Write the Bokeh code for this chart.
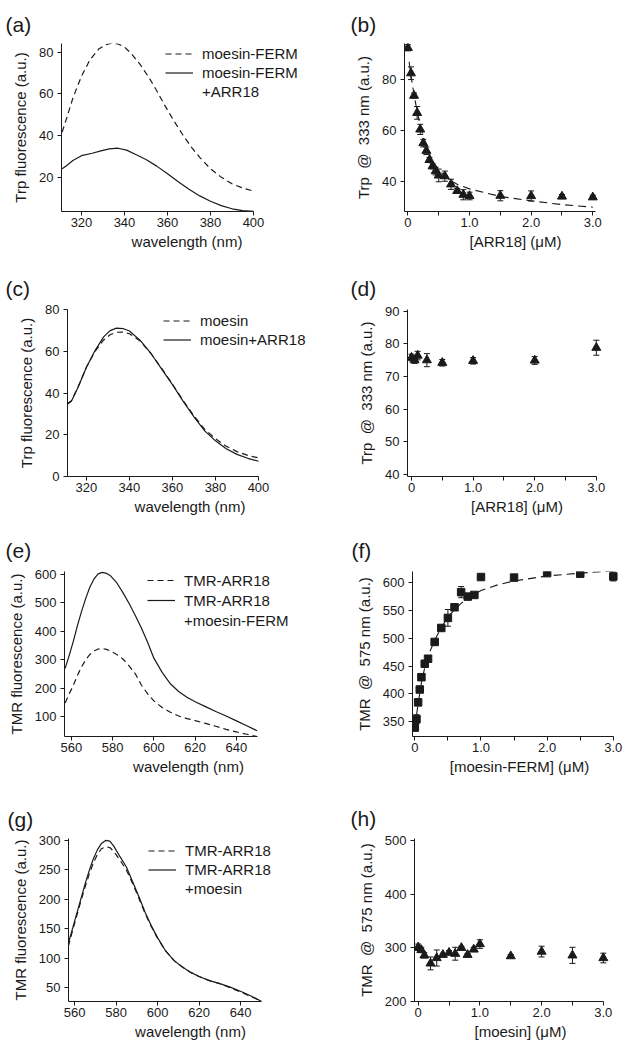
from bokeh.plotting import figure
from bokeh.layouts import column, row
from bokeh.models import (Range1d, FixedTicker, Legend, LegendItem, Whisker, TeeHead,
                          ColumnDataSource, CustomJSTickFormatter)
from bokeh.embed import file_html
from bokeh.resources import INLINE

FONT = "Liberation Sans"
INK = "#1a1a1a"

# ---------------- data ----------------
# (a) Trp spectra, moesin-FERM
wl_a_dash = [311, 313, 316, 320, 324, 328, 331, 334, 337, 340, 343, 347, 351, 355, 359, 363, 367, 371, 375, 380, 385, 390, 395, 400]
fl_a_dash = [41.6, 48, 58, 68.5, 76.5, 81.5, 83.5, 84.3, 84, 82.5, 79.5, 74.5, 68.5, 61.5, 54, 47, 40.5, 34.5, 29.5, 24, 20, 16.8, 14.8, 13.3]
wl_a_solid = [311, 313, 316, 320, 325, 329, 333, 337, 341, 345, 350, 355, 360, 365, 370, 375, 380, 385, 390, 395, 400]
fl_a_solid = [24, 25.5, 28, 30.3, 31.5, 32.6, 33.6, 33.9, 33, 31, 28.5, 25.3, 21.6, 17.8, 14.2, 11, 8.4, 6.3, 4.8, 3.9, 3.6]

# (b) Trp @ 333 nm vs [ARR18]
arr_b = [0, 0.05, 0.1, 0.15, 0.2, 0.25, 0.3, 0.35, 0.4, 0.45, 0.5, 0.6, 0.7, 0.8, 0.9, 1.0, 1.5, 2.0, 2.5, 3.0]
trp_b = [92.5, 82.5, 73.7, 66.9, 60.4, 55, 52, 48.4, 45.9, 44, 42.3, 42, 38.8, 36.2, 34.7, 34.2, 34.3, 34.2, 34, 33.7]
err_b = [1.2, 2.5, 1, 2.5, 2, 1.5, 1.5, 1, 1, 1.5, 2.5, 2, 2, 1, 2, 1.5, 2, 2, 0.8, 0.8]
fit_b_x = [0.02, 0.05, 0.1, 0.15, 0.2, 0.3, 0.4, 0.5, 0.6, 0.7, 0.8, 1.0, 1.25, 1.5, 2.0, 2.5, 3.0]
fit_b_y = [87, 81.5, 74, 67.5, 62, 53.5, 48, 44.5, 42, 40.2, 38.8, 37, 35.5, 34, 32.3, 30.8, 29.8]

# (c) Trp spectra, full-length moesin
wl_c = [311, 313, 316, 320, 324, 328, 331, 334, 337, 340, 345, 350, 355, 360, 365, 370, 375, 380, 385, 390, 395, 400]
fl_c_solid = [34.5, 36, 42.5, 52.4, 60.4, 67, 70, 71.2, 71, 69.8, 65.3, 59, 51.5, 44, 36, 28.5, 21.8, 17, 13.2, 10.5, 8.6, 7.2]
fl_c_dash = [34.8, 36.3, 42.5, 52.4, 60, 65.5, 68, 69.2, 69.3, 68.5, 65, 59, 51.8, 44.2, 36.3, 29, 22.5, 18, 14.4, 11.8, 10, 8.8]

# (d) Trp @ 333 nm vs [ARR18], moesin
arr_d = [0, 0.05, 0.1, 0.25, 0.5, 1.0, 2.0, 3.0]
trp_d = [75.8, 75.0, 76.4, 75.0, 74.2, 74.8, 74.9, 78.8]
err_d = [1, 1, 1.3, 2, 1, 1, 1.2, 2.3]

# (e) TMR spectra, moesin-FERM
wl_e = [557, 559, 561, 563, 565, 567, 569, 571, 573, 575, 577, 579, 582, 585, 588, 591, 594, 597, 600, 604, 608, 612, 616, 620, 625, 630, 635, 640, 645, 650]
fl_e_solid = [269, 315, 365, 420, 470, 515, 555, 583, 601, 606, 603, 594, 570, 535, 497, 455, 410, 360, 305, 255, 215, 188, 168, 152, 135, 118, 102, 85, 68, 50]
fl_e_dash = [148, 180, 210, 245, 275, 300, 318, 330, 337, 339, 336, 330, 318, 302, 278, 250, 210, 180, 155, 132, 115, 102, 93, 86, 76, 66, 55, 46, 38, 30]

# (f) TMR @ 575 nm vs [moesin-FERM]
conc_f = [0, 0.025, 0.05, 0.075, 0.1, 0.15, 0.2, 0.3, 0.4, 0.5, 0.6, 0.7, 0.8, 0.9, 1.0, 1.5, 2.0, 2.5, 3.0]
tmr_f = [340, 355, 385, 408, 430, 454, 463, 493, 518, 536, 555, 582, 574, 577, 609, 608, 616, 615, 610]
err_f = [6, 8, 6, 5, 4, 4, 4, 4, 5, 15, 4, 10, 3, 3, 4, 4, 3, 3, 8]
fit_f_x = [0.0, 0.05, 0.1, 0.15, 0.2, 0.3, 0.4, 0.5, 0.6, 0.7, 0.8, 1.0, 1.25, 1.5, 2.0, 2.5, 3.0]
fit_f_y = [340, 383, 420, 447, 468, 496, 519, 537, 551, 562, 571, 585, 595, 602, 611, 616, 620]

# (g) TMR spectra, full-length moesin
wl_g = [557, 559, 561, 563, 565, 567, 569, 571, 573, 575, 577, 579, 582, 585, 588, 591, 594, 597, 600, 604, 608, 612, 616, 620, 625, 630, 635, 640, 645, 650]
fl_g_solid = [125, 150, 175, 200, 225, 248, 268, 284, 295, 300, 299, 290, 272, 255, 230, 205, 178, 155, 135, 112, 96, 85, 76, 69, 62, 57, 51, 44, 36, 27]
fl_g_dash = [120, 146, 171, 196, 220, 242, 261, 276, 286, 289, 288, 281, 266, 250, 227, 202, 176, 154, 134, 112, 96, 85, 76, 69, 62, 57, 50, 43, 35, 27]

# (h) TMR @ 575 nm vs [moesin]
conc_h = [0, 0.05, 0.1, 0.2, 0.3, 0.4, 0.5, 0.6, 0.7, 0.8, 0.9, 1.0, 1.5, 2.0, 2.5, 3.0]
tmr_h = [301, 296, 286, 271, 281, 287, 291, 289, 300, 287, 297, 307, 284.5, 293, 286, 281]
err_h = [6, 5, 5, 12, 15, 3, 4, 12, 3, 2, 4, 8, 3, 10, 15, 9]

# -------------- helpers --------------
ROW_TOP = [0, 260, 520, 790]
ROW_H = [260, 260, 270, 260]
COL_L = [0, 315]
COL_W = [315, 316]
FRAME_R_EXT = [312, 626]


def panel(ci, ri, frame, xr, yr, label, title_off, title_gap, xticks, yticks, xtitle, ytitle, conc=False):
    l, t, r, b = frame
    cl, cw, rt, rh = COL_L[ci], COL_W[ci], ROW_TOP[ri], ROW_H[ri]
    r_ext = FRAME_R_EXT[ci]
    x_ext = xr[0] + (xr[1] - xr[0]) * (r_ext - l) / (r - l)
    p = figure(width=cw, height=rh, output_backend="svg", toolbar_location=None,
               x_range=Range1d(xr[0], x_ext), y_range=Range1d(*yr),
               min_border_left=round(l - cl), min_border_right=round(cl + cw - r_ext),
               min_border_top=round(t - rt), min_border_bottom=round(rt + rh - b))
    p.outline_line_color = None
    p.background_fill_color = "white"
    p.border_fill_color = "white"
    p.xgrid.visible = False
    p.ygrid.visible = False
    p.title.text = label
    p.title.align = "left"
    p.title.offset = title_off
    p.title.text_font = FONT
    p.title.text_font_size = "21px"
    p.title.text_font_style = "normal"
    p.title.text_color = INK
    p.title.standoff = title_gap
    for ax in (p.xaxis[0], p.yaxis[0]):
        ax.axis_line_color = INK
        ax.axis_line_width = 1
        ax.major_tick_line_color = INK
        ax.major_tick_out = 4
        ax.major_tick_in = 0
        ax.minor_tick_line_color = None
        ax.major_label_text_font = FONT
        ax.major_label_text_font_size = "13px"
        ax.major_label_text_color = INK
        ax.axis_label_text_font = FONT
        ax.axis_label_text_font_size = "15px"
        ax.axis_label_text_font_style = "normal"
        ax.axis_label_text_color = INK
    p.xaxis.bounds = (xr[0], xr[1])
    p.xaxis.major_label_standoff = 2
    p.xaxis.axis_label_standoff = 3
    p.yaxis.major_label_standoff = 4
    p.yaxis.axis_label_standoff = 7
    p.xaxis.axis_label = xtitle
    p.yaxis.axis_label = ytitle
    p.yaxis.ticker = FixedTicker(ticks=yticks)
    if conc:
        p.xaxis.ticker = FixedTicker(ticks=[0, 1, 2, 3], minor_ticks=[0.5, 1.5, 2.5])
        p.xaxis.minor_tick_line_color = INK
        p.xaxis.minor_tick_out = 4
        p.xaxis.minor_tick_in = 0
        p.xaxis.formatter = CustomJSTickFormatter(code="return tick == 0 ? '0' : tick.toFixed(1);")
    else:
        p.xaxis.ticker = FixedTicker(ticks=xticks)
    return p


def legend(p, entries, vx, vy, pitch):
    items = [LegendItem(label=txt, renderers=[rr]) for txt, rr in entries]
    lg = Legend(items=items, location=(vx, vy), border_line_color=None,
                background_fill_alpha=0, padding=0, spacing=0, margin=0,
                glyph_width=28, glyph_height=pitch, label_height=pitch,
                label_standoff=9, label_text_font=FONT, label_text_font_size="15px",
                label_text_color=INK)
    p.add_layout(lg)


def blank(p):
    return p.line(x=[], y=[], line_alpha=0)


def errpoints(p, xs, ys, es, marker, size):
    src = ColumnDataSource(dict(x=xs, y=ys,
                                up=[a + e for a, e in zip(ys, es)],
                                lo=[a - e for a, e in zip(ys, es)]))
    w = Whisker(source=src, base="x", upper="up", lower="lo", line_color=INK, line_width=1,
                upper_head=TeeHead(size=6, line_color=INK, line_width=1),
                lower_head=TeeHead(size=6, line_color=INK, line_width=1))
    p.add_layout(w)
    p.scatter("x", "y", source=src, marker=marker, size=size, fill_color=INK, line_color=INK)


SPEC_DASH = "6 4"
FIT_DASH = "8 5"
NB = "\u00a0"
ARR_T = "[ARR18] (\u03bcM)"
TRP_T = "Trp" + NB * 2 + "@" + NB * 2 + "333 nm (a.u.)"
TMR_T = "TMR" + NB * 2 + "@" + NB * 2 + "575 nm (a.u.)"

# (a)
pa = panel(0, 0, (61, 43, 253, 211), (310.7, 400), (3.5, 84.2), "(a)", -56, 16,
           [320, 340, 360, 380, 400], [20, 40, 60, 80], "wavelength (nm)", "Trp fluorescence (a.u.)")
ra1 = pa.line(wl_a_dash, fl_a_dash, line_color=INK, line_width=1.2, line_dash=SPEC_DASH)
ra2 = pa.line(wl_a_solid, fl_a_solid, line_color=INK, line_width=1.2)
legend(pa, [("moesin-FERM", ra1), ("moesin-FERM", ra2), ("+ARR18", blank(pa))], 104, 110.5, 19)

# (b)
pb = panel(1, 0, (404, 43, 595, 211), (-0.055, 3.044), (28.1, 94.2), "(b)", -54, 16,
           None, [40, 60, 80], ARR_T, TRP_T, conc=True)
pb.line(fit_b_x, fit_b_y, line_color=INK, line_width=1.1, line_dash=FIT_DASH)
errpoints(pb, arr_b, trp_b, err_b, "triangle", 9)

# (c)
pc = panel(0, 1, (67, 309, 258, 476), (311.2, 400), (-0.15, 80.15), "(c)", -62, 19,
           [320, 340, 360, 380, 400], [0, 20, 40, 60, 80], "wavelength (nm)", "Trp fluorescence (a.u.)")
rc1 = pc.line(wl_c, fl_c_dash, line_color=INK, line_width=1.2, line_dash=SPEC_DASH)
rc2 = pc.line(wl_c, fl_c_solid, line_color=INK, line_width=1.2)
legend(pc, [("moesin", rc1), ("moesin+ARR18", rc2)], 96, 127.5, 19)

# (d)
pd_ = panel(1, 1, (407, 309, 596, 477), (-0.065, 3.003), (39.4, 90.5), "(d)", -57, 19,
            None, [40, 50, 60, 70, 80, 90], ARR_T, TRP_T, conc=True)
errpoints(pd_, arr_d, trp_d, err_d, "triangle", 9)

# (e)
pe = panel(0, 2, (64, 568, 257, 736), (556.7, 650.2), (30, 609.3), "(e)", -59, 20,
           [560, 580, 600, 620, 640], [100, 200, 300, 400, 500, 600], "wavelength (nm)", "TMR fluorescence (a.u.)")
re1 = pe.line(wl_e, fl_e_dash, line_color=INK, line_width=1.2, line_dash=SPEC_DASH)
re2 = pe.line(wl_e, fl_e_solid, line_color=INK, line_width=1.2)
legend(pe, [("TMR-ARR18", re1), ("TMR-ARR18", re2), ("+moesin-FERM", blank(pe))], 83, 106, 20)

# (f)
pf = panel(1, 2, (412, 571, 613, 738), (-0.035, 3.003), (324, 618.9), "(f)", -61, 20,
           None, [350, 400, 450, 500, 550, 600], "[moesin-FERM] (\u03bcM)", TMR_T, conc=True)
pf.line(fit_f_x, fit_f_y, line_color=INK, line_width=1.1, line_dash=FIT_DASH)
errpoints(pf, conc_f, tmr_f, err_f, "square", 7.5)

# (g)
pg = panel(0, 3, (68, 832, 261, 1001), (557.1, 650.1), (26.6, 303.3), "(g)", -61, 16,
           [560, 580, 600, 620, 640], [50, 100, 150, 200, 250, 300], "wavelength (nm)", "TMR fluorescence (a.u.)")
rg1 = pg.line(wl_g, fl_g_dash, line_color=INK, line_width=1.2, line_dash=SPEC_DASH)
rg2 = pg.line(wl_g, fl_g_solid, line_color=INK, line_width=1.2)
legend(pg, [("TMR-ARR18", rg1), ("TMR-ARR18", rg2), ("+moesin", blank(pg))], 80, 102.8, 19)

# (h)
ph = panel(1, 3, (414, 838, 603, 1001), (-0.06, 3.003), (200, 503.7), "(h)", -64, 17,
           None, [200, 300, 400, 500], "[moesin] (\u03bcM)", TMR_T, conc=True)
errpoints(ph, conc_h, tmr_h, err_h, "triangle", 9)

layout = column(row(pa, pb), row(pc, pd_), row(pe, pf), row(pg, ph))
open("out.html", "w").write(file_html(layout, INLINE))
